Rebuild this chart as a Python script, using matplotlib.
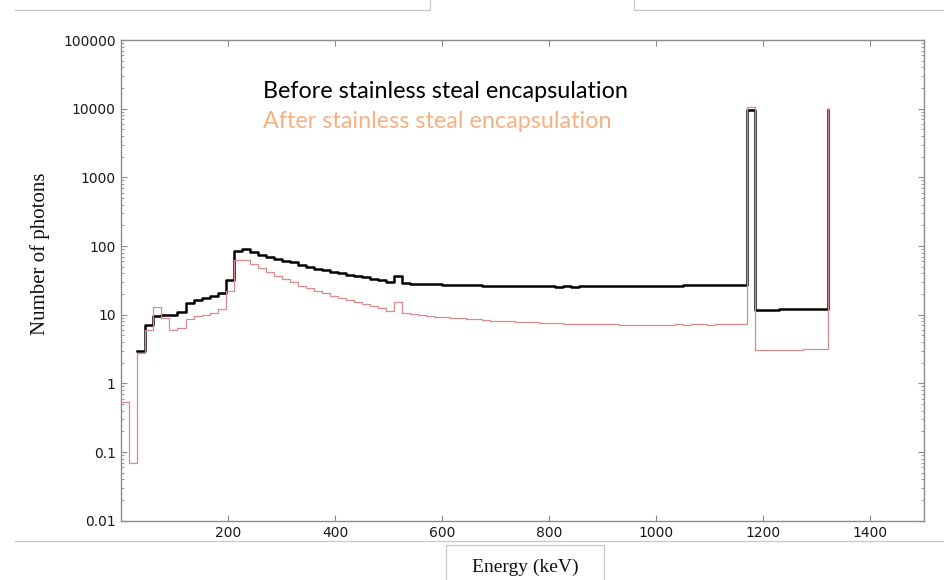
import numpy as np
import matplotlib
matplotlib.use('Agg')
import matplotlib.pyplot as plt
from matplotlib.lines import Line2D
from matplotlib.ticker import FixedLocator, FixedFormatter, LogLocator, NullFormatter

nan = np.nan
bin_width_keV = 15

before_counts = [
    nan, nan, 3.0, 7.1, 9.6, 10.0, 10.0, 10.9, 14.8, 16.6,
    17.7, 18.6, 21.0, 32.0, 85, 90, 82, 75, 70, 65,
    61, 57.6, 53.6, 50.0, 47.0, 44.8, 42.3, 40.1, 38.2, 36.6,
    35.0, 33.5, 32.0, 30.0, 37.0, 28.9,
    28.2, 28.0, 27.8, 27.6, 27.2, 27.0, 26.9, 26.8, 26.7, 26.6,
    26.5, 26.2, 26.0, 25.9, 25.9, 25.8, 25.8, 25.8, 25.7, 25.8,
    25.7, 25.8, 26.3, 26.4, 26.2, 26.0, 26.1, 26.2, 26.3, 26.3,
    26.4, 26.5, 26.6, 26.6, 26.7, 26.7, 26.8, 26.8, 26.9, 27.0,
    27.1, 27.3,
    9600,
    11.8, 11.8, 11.7, 11.9, 11.9, 12.0, 12.0, 12.1, 12.2,
    9600,
]

after_counts = [
    0.53, 0.07, 2.8, 6.0, 12.9, 8.9, 6.0, 6.3, 8.6, 9.6,
    10.0, 10.6, 12.0, 21.8, 63, 62, 55, 48, 42, 37,
    33, 29.5, 26.4, 24.1, 22.3, 20.7, 18.9, 17.5, 16.2, 15.1,
    14.1, 13.2, 12.4, 11.5, 15.1, 10.5,
    10.1, 9.8, 9.6, 9.4, 9.2, 9.0, 8.8, 8.7, 8.6, 8.4,
    8.2, 8.1, 8.0, 7.9, 7.8, 7.7, 7.6, 7.5, 7.5, 7.4,
    7.3, 7.3, 7.2, 7.2, 7.4, 7.2, 7.1, 7.1, 7.0, 7.0,
    7.1, 7.1, 7.1, 7.2, 7.1, 7.2, 7.2, 7.1, 7.2, 7.2,
    7.2, 7.2,
    10700,
    3.05, 3.05, 3.1, 3.1, 3.1, 3.1, 3.15, 3.15, 3.2,
    10400,
]

energy_keV = np.arange(len(after_counts)) * bin_width_keV

x_ticks = [200, 400, 600, 800, 1000, 1200, 1400]
x_tick_labels = ['200', '400', '600', '800', '1000', '1200', '1400']
y_ticks = [0.01, 0.1, 1, 10, 100, 1000, 10000, 100000]
y_tick_labels = ['0.01', '0.1', '1', '10', '100', '1000', '10000', '100000']

label_before = 'Before stainless steal encapsulation'
label_after = 'After stainless steal encapsulation'
x_label = 'Energy (keV)'
y_label = 'Number of photons'

W, H = 944, 580
fig = plt.figure(figsize=(W / 100, H / 100), dpi=100)
ax = fig.add_axes([121.3 / W, 1 - 520.7 / H, (923.8 - 121.3) / W, (520.7 - 40) / H])

ax.step(energy_keV, before_counts, where='post', color='black', lw=1.8, zorder=2)
ax.step(energy_keV, after_counts, where='post', color='#d98a8a', lw=0.9, zorder=3)

ax.set_yscale('log')
ax.set_xlim(0, 1500)
ax.set_ylim(0.01, 100000)

ax.xaxis.set_major_locator(FixedLocator(x_ticks))
ax.xaxis.set_major_formatter(FixedFormatter(x_tick_labels))
ax.yaxis.set_major_locator(FixedLocator(y_ticks))
ax.yaxis.set_major_formatter(FixedFormatter(y_tick_labels))
ax.yaxis.set_minor_locator(LogLocator(base=10, subs=np.arange(2, 10), numticks=20))
ax.yaxis.set_minor_formatter(NullFormatter())

for s in ax.spines.values():
    s.set_color('#8c8c8c')
    s.set_linewidth(1.0)

ax.tick_params(axis='both', which='both', direction='in', colors='#8c8c8c',
               top=True, right=True, labelcolor='#1a1a1a')
ax.tick_params(axis='both', which='major', length=4, width=0.8)
ax.tick_params(axis='both', which='minor', length=2, width=0.6)
ax.tick_params(axis='x', labelsize=10, pad=4)
ax.tick_params(axis='y', labelsize=10, pad=4)

fig.text(40 / W, 1 - 254 / H, y_label, rotation=90, ha='center', va='center',
         family='Liberation Serif', fontsize=15, color='#111111')
fig.text(525 / W, 1 - 567 / H, x_label, ha='center', va='center',
         family='Liberation Serif', fontsize=14, color='#111111')

fig.text(263 / W, 1 - 91 / H, label_before, ha='left', va='center',
         family='Lato', fontsize=16.8, color='black')
fig.text(263 / W, 1 - 121 / H, label_after, ha='left', va='center',
         family='Lato', fontsize=16.8, color='#f4b183')

# screenshot frame remnants
gc = '#c8c8c8'
def fl(xs, ys):
    fig.add_artist(Line2D([x / W for x in xs], [1 - y / H for y in ys],
                          color=gc, lw=0.9, transform=fig.transFigure))
fl([15, 430, 430], [10, 10, 0])
fl([634, 634, 944], [0, 10, 10])
fl([15, 944], [541, 541])
fl([446, 446, 604, 604], [580, 545, 545, 580])

fig.savefig('out.png', dpi=100)
